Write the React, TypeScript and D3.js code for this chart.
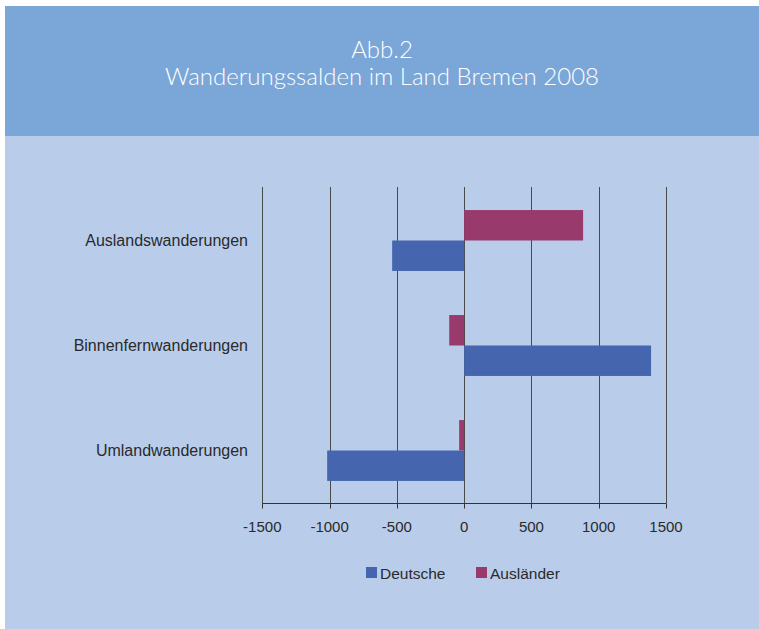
import React from 'react';
import * as d3 from 'd3';

const categories = ['Auslandswanderungen', 'Binnenfernwanderungen', 'Umlandwanderungen'];
const seriesNames = ['Deutsche', 'Ausländer'];
const deutsche = [-535, 1389, -1018];
const auslaender = [884, -111, -37];
const xTicks = [-1500, -1000, -500, 0, 500, 1000, 1500];
const colors = ['#4565ae', '#983a6c'];

const W = 759;
const H = 629;

const App: React.FC = () => {
  const x = d3.scaleLinear().domain([-1500, 1500]).range([262.3, 666]);
  const y = d3.scaleBand<string>()
    .domain(categories)
    .range([188, 503])
    .paddingInner(0.42)
    .paddingOuter(0.21);
  // Ausländer bar sits above Deutsche within each category
  const sub = d3.scaleBand<string>()
    .domain(['Ausländer', 'Deutsche'])
    .range([0, y.bandwidth()]);

  const values: Record<string, number[]> = { Deutsche: deutsche, 'Ausländer': auslaender };
  const font = '"Liberation Sans", Arial, sans-serif';
  const axisY = 503.5;
  const titleStyle = { fontFamily: 'Lato, "Open Sans", sans-serif', fontWeight: 300, fontSize: 24 };

  return (
    <svg width={W} height={H} style={{ position: 'absolute', left: 0, top: 0, background: '#fff' }}>
      {/* panels */}
      <rect x={5} y={6} width={W - 5} height={130} fill="#7ba6d8" />
      <rect x={5} y={136} width={W - 5} height={H - 136} fill="#b9cdeb" />
      <text x={382} y={58} textAnchor="middle" fill="#fff" style={titleStyle}>Abb.2</text>
      <text x={382} y={85} textAnchor="middle" fill="#fff" style={titleStyle}>
        Wanderungssalden im Land Bremen 2008
      </text>

      {/* grid */}
      {xTicks.map(t => (
        <line key={t} x1={Math.round(x(t)) + 0.5} x2={Math.round(x(t)) + 0.5} y1={187} y2={axisY}
          stroke="#4a4a4a" strokeWidth={1} />
      ))}

      {/* bars */}
      {categories.map((c, i) => seriesNames.map(s => {
        const v = values[s][i];
        const y0 = (y(c) ?? 0) + (sub(s) ?? 0);
        return (
          <rect key={c + s} x={x(Math.min(0, v))} y={y0}
            width={Math.abs(x(v) - x(0))} height={sub.bandwidth()}
            fill={colors[seriesNames.indexOf(s)]} />
        );
      }))}

      {/* axis */}
      <line x1={x(-1500)} x2={x(1500)} y1={axisY} y2={axisY} stroke="#333" strokeWidth={1} />
      {xTicks.map(t => (
        <g key={'t' + t}>
          <line x1={Math.round(x(t)) + 0.5} x2={Math.round(x(t)) + 0.5} y1={axisY} y2={axisY + 5} stroke="#333" />
          <text x={x(t)} y={532} textAnchor="middle" fill="#2a2a2a"
            style={{ fontFamily: font, fontSize: 15 }}>{t}</text>
        </g>
      ))}

      {/* category labels */}
      {categories.map(c => (
        <text key={c} x={248} y={(y(c) ?? 0) + y.bandwidth() / 2 + 5} textAnchor="end" fill="#2a2a2a"
          style={{ fontFamily: font, fontSize: 16 }}>{c}</text>
      ))}

      {/* legend */}
      <rect x={366} y={567} width={11} height={11} fill={colors[0]} />
      <text x={380} y={579} fill="#2a2a2a" style={{ fontFamily: font, fontSize: 15.5 }}>{seriesNames[0]}</text>
      <rect x={476} y={567} width={11} height={11} fill={colors[1]} />
      <text x={490} y={579} fill="#2a2a2a" style={{ fontFamily: font, fontSize: 15.5 }}>{seriesNames[1]}</text>
    </svg>
  );
};

export default App;
